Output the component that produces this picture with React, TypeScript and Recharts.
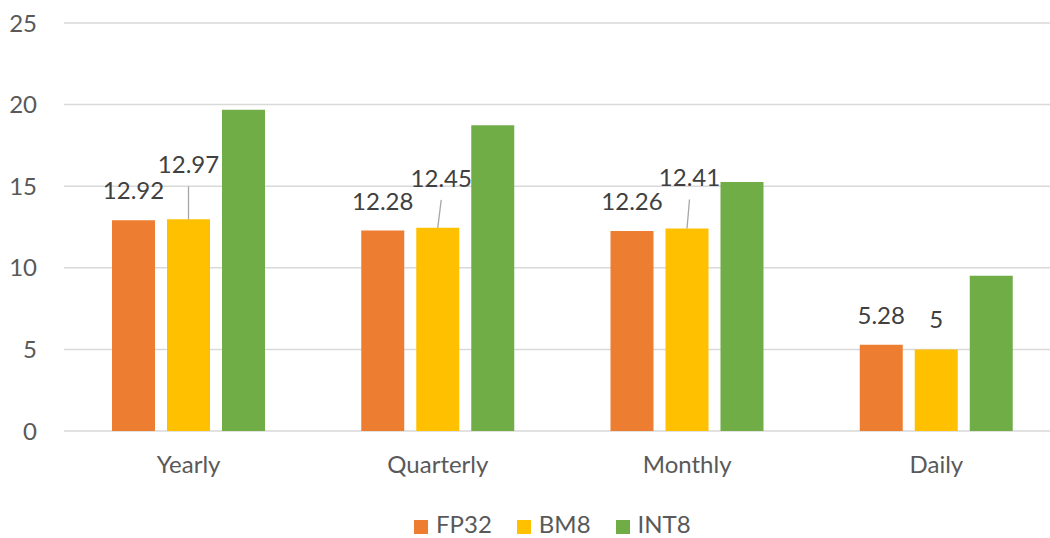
import React from "react";
import {
  BarChart,
  Bar,
  XAxis,
  YAxis,
  CartesianGrid,
  Legend,
  LabelList,
} from "recharts";

const categories = ["Yearly", "Quarterly", "Monthly", "Daily"];
const fp32 = [12.92, 12.28, 12.26, 5.28];
const bm8 = [12.97, 12.45, 12.41, 5];
const int8 = [19.69, 18.73, 15.26, 9.52];
const yTicks = [0, 5, 10, 15, 20, 25];

const series = [
  { key: "FP32", color: "#ED7D31" },
  { key: "BM8", color: "#FFC000" },
  { key: "INT8", color: "#70AD47" },
];

// BM8 labels that Excel pushed upward, with a leader line back to the bar
const bm8Callouts: ({ dx: number; dy: number } | null)[] = [
  { dx: 0, dy: -25 },
  { dx: 3.5, dy: -20 },
  { dx: 2.5, dy: -21 },
  null,
];

const FONT = "Lato, 'Open Sans', sans-serif";
const FS = 24;

const chartData = categories.map((c, i) => ({
  name: c,
  FP32: fp32[i],
  BM8: bm8[i],
  INT8: int8[i],
}));

function TopLabel(props: any) {
  const { x, y, width, value } = props;
  return (
    <text
      x={x + width / 2}
      y={y - 21}
      textAnchor="middle"
      fill="#404040"
      fontSize={FS}
      fontFamily={FONT}
    >
      {value}
    </text>
  );
}

function CalloutLabel(props: any) {
  const { x, y, width, value, index } = props;
  const c = bm8Callouts[index];
  const cx = x + width / 2;
  if (!c) return <TopLabel {...props} />;
  const baseY = y - 21 + c.dy;
  return (
    <g>
      <line
        x1={cx}
        y1={y}
        x2={cx + c.dx}
        y2={baseY + 13}
        stroke="#a6a6a6"
        strokeWidth={1.3}
      />
      <text
        x={cx + c.dx}
        y={baseY}
        textAnchor="middle"
        fill="#404040"
        fontSize={FS}
        fontFamily={FONT}
      >
        {value}
      </text>
    </g>
  );
}

function LegendContent() {
  return (
    <div
      style={{
        display: "flex",
        alignItems: "center",
        marginLeft: 414,
        paddingTop: 19,
        height: 28,
        fontFamily: FONT,
        fontSize: FS,
        color: "#595959",
      }}
    >
      {series.map((s) => (
        <div
          key={s.key}
          style={{ display: "flex", alignItems: "center", marginRight: 25 }}
        >
          <span
            style={{
              width: 14,
              height: 14,
              background: s.color,
              display: "inline-block",
              marginRight: 8,
              position: "relative",
              top: 3,
            }}
          />
          <span style={{ lineHeight: "28px" }}>{s.key}</span>
        </div>
      ))}
    </div>
  );
}

export default function App() {
  return (
    <div
      style={{
        position: "fixed",
        left: 0,
        top: 0,
        width: 1050,
        height: 538,
        overflow: "hidden",
        background: "#fff",
      }}
    >
      <BarChart
        width={1070}
        height={538}
        data={chartData}
        margin={{ top: 23, right: 9, left: 0, bottom: 0 }}
        barSize={43}
        barGap={12}
      >
        <CartesianGrid
          vertical={false}
          stroke="#d9d9d9"
          strokeWidth={1.5}
        />
        <XAxis
          dataKey="name"
          axisLine={false}
          tickLine={false}
          tickSize={0}
          tickMargin={25}
          height={60}
          tick={{ fill: "#595959", fontSize: FS, fontFamily: FONT }}
        />
        <YAxis
          domain={[0, 25]}
          ticks={yTicks}
          width={64}
          axisLine={false}
          tickLine={false}
          tickSize={0}
          tickMargin={27}
          tick={{ fill: "#595959", fontSize: FS, fontFamily: FONT }}
        />
        <Legend verticalAlign="bottom" content={<LegendContent />} />
        <Bar dataKey="FP32" fill="#ED7D31" isAnimationActive={false}>
          <LabelList dataKey="FP32" content={<TopLabel />} />
        </Bar>
        <Bar dataKey="BM8" fill="#FFC000" isAnimationActive={false}>
          <LabelList dataKey="BM8" content={<CalloutLabel />} />
        </Bar>
        <Bar dataKey="INT8" fill="#70AD47" isAnimationActive={false} />
      </BarChart>
    </div>
  );
}
